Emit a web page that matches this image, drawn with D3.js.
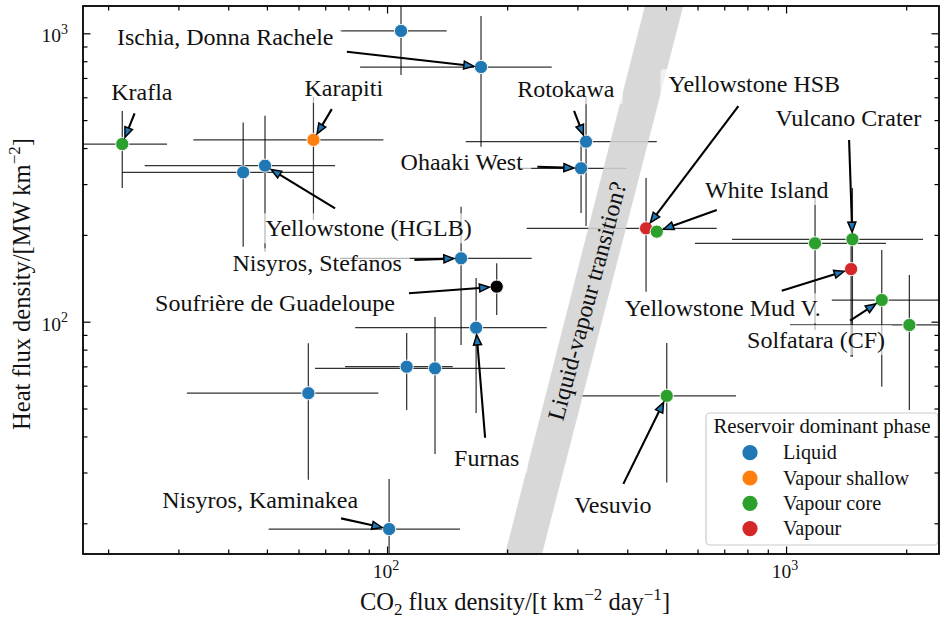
<!DOCTYPE html>
<html><head><meta charset="utf-8">
<script src="https://cdn.jsdelivr.net/npm/d3@7"></script>
<style>
body{margin:0;background:#fff}
svg{display:block}
text{font-family:"Liberation Serif","Times New Roman",serif;fill:#111}
</style>
</head><body>
<svg id="c" width="940" height="621"></svg>
<script>
// ---------------- data ----------------
const phases = ["Liquid","Vapour shallow","Vapour core","Vapour"];
const phaseColors = ["#1f77b4","#ff7f0e","#2ca02c","#d62728"];

const siteNames = ["Ischia (a)","Ischia, Donna Rachele","Krafla","Karapiti","Yellowstone (a)","Yellowstone (HGLB)",
  "Rotokawa","Ohaaki West","Yellowstone HSB","White Island","Vulcano (a)","Vulcano Crater","Yellowstone Mud V.",
  "Solfatara (CF)","Solfatara (a)","Nisyros, Stefanos","Soufrière de Guadeloupe","Furnas","Liquid (a)","Liquid (b)",
  "Liquid (c)","Nisyros, Kaminakea","Vesuvio"];
const sitePhase = ["Liquid","Liquid","Vapour core","Vapour shallow","Liquid","Liquid",
  "Liquid","Liquid","Vapour","Vapour core","Vapour core","Vapour core","Vapour",
  "Vapour core","Vapour core","Liquid","Other","Liquid","Liquid","Liquid",
  "Liquid","Liquid","Vapour core"];
const co2   = [108.4,172,21.7,65.4,43.6,49.45,315.3,306.4,445.8,474.2,1182,1466.5,1455.5,1737,2037,153.3,188.3,167.2,112,131.9,63.5,101.2,502.3];
const heat  = [1019,764,413,427,329.6,347.5,421,340.4,210.8,205.2,187,193.1,152.2,118.9,97.4,165.9,132.3,95.3,69.8,68.9,56.5,19.1,55.3];
const co2Lo = [76.2,85.6,14,32.7,21.7,24.7,157.5,215.4,223.9,null,591.4,732.2,null,1302,1023,76.2,null,83.2,78.5,66.0,31.5,50.5,304.6];
const co2Hi = [141.1,258.7,28.1,97.9,65.4,74.1,474.2,398.9,670.4,null,1780,2204,null,2600,2600,230.5,null,251.4,146.1,197.6,95.1,152.4,749.3];
const heatLo= [717,404.5,290.8,225.3,182,174.9,214.7,238.2,127,null,93.6,75.6,75.6,59.5,49.4,83.0,105.5,48.2,49.4,34.8,28.3,14,27.7];
const heatHi= [1400,1148,538,603,491,518,603,416.5,315,null,268.5,290.8,193,177.3,145.2,250.5,159.4,141.8,91.4,103.8,84.2,28.5,84.4];

// annotations: label text position, arrow tail (data coords), target site index
const annText  = ["Ischia, Donna Rachele","Krafla","Karapiti","Yellowstone (HGLB)","Rotokawa","Ohaaki West",
  "Yellowstone HSB","White Island","Vulcano Crater","Yellowstone Mud V.","Solfatara (CF)","Nisyros, Stefanos",
  "Soufrière de Guadeloupe","Furnas","Nisyros, Kaminakea","Vesuvio"];
const annX     = [39.3,24.3,77.9,89.9,280.6,153.9,832.4,894.5,1432.6,694.3,1189,66.8,52.4,177.8,48.1,368.0];
const annY     = [971,626,646,210.8,639.4,357,665.5,286.2,509.8,111.3,86.4,159.4,115.8,33.6,24.1,23.1];
const tailX    = [79.3,23.3,72.7,74.1,294.2,238.1,759.4,670.4,1438.6,975.4,1447,117.1,113.5,176.1,76.7,391.1];
const tailY    = [863.5,528,546,247.3,537.8,344.6,559.6,244,426.6,128.1,100.8,163.7,125.5,39.6,20.8,27.4];
const annTarget= [1,2,3,5,6,7,8,9,11,12,13,15,16,17,21,22];

// liquid-vapour transition band (data corners)
const bandCO2  = [182,225,578,463];
const bandHeat = [10,10,1585,1585];
const bandLabel = "Liquid-vapour transition?";
const bandLabelPos = [317.2,118];

const xMajor = [100,1000];
const xMinor = [20,30,40,50,60,70,80,90,200,300,400,500,600,700,800,900,2000];
const yMajor = [100,1000];
const yMinor = [20,30,40,50,60,70,80,90,200,300,400,500,600,700,800,900];

const xTitle = ["CO","2"," flux density/[t km","−2"," day","−1","]"];
const yTitle = ["Heat flux density/[MW km","−2","]"];
const legendTitle = "Reservoir dominant phase";

// ---------------- chart ----------------
const L=83, R=939, T=6, B=554;
const svg = d3.select("#c");
const x = d3.scaleLog().domain([17.3,2417]).range([L,R]);
const y = d3.scaleLog().domain([15.65,1243.5]).range([B,T]);

svg.append("defs").append("clipPath").attr("id","clip")
  .append("rect").attr("x",L).attr("y",T).attr("width",R-L).attr("height",B-T);

const plot = svg.append("g").attr("clip-path","url(#clip)");

const pts = co2.map((c,i)=>({name:siteNames[i],phase:sitePhase[i],c,h:heat[i],cl:co2Lo[i],ch:co2Hi[i],hl:heatLo[i],hh:heatHi[i]}));

// error bars
const eb = plot.append("g").attr("stroke","#000").attr("stroke-opacity",0.8).attr("stroke-width",1.25);
pts.forEach(p=>{
  if(p.cl!=null) eb.append("line").attr("x1",x(p.cl)).attr("x2",x(p.ch)).attr("y1",y(p.h)).attr("y2",y(p.h));
  if(p.hl!=null) eb.append("line").attr("x1",x(p.c)).attr("x2",x(p.c)).attr("y1",y(p.hl)).attr("y2",y(p.hh));
});

// band
plot.append("polygon")
  .attr("points", bandCO2.map((c,i)=>[x(c),y(bandHeat[i])].join(",")).join(" "))
  .attr("fill","#d3d3d3").attr("fill-opacity",0.88);

// markers
const colorOf = ph => { const k=phases.indexOf(ph); return k>=0?phaseColors[k]:"#000"; };
plot.append("g").selectAll("circle").data(pts).join("circle")
  .attr("cx",d=>x(d.c)).attr("cy",d=>y(d.h)).attr("r",6.6)
  .attr("fill",d=>colorOf(d.phase)).attr("stroke","#f2f2f2").attr("stroke-width",1);

// band label
svg.append("text")
  .attr("transform",`translate(${x(bandLabelPos[0])},${y(bandLabelPos[1])}) rotate(-75)`)
  .attr("text-anchor","middle").attr("dy","0.33em").attr("font-size",24).attr("fill","#222")
  .text(bandLabel);

// annotations
const annG = svg.append("g");
const FS = 24;
annText.forEach((t,i)=>{
  const tx = x(annX[i]), ty = y(annY[i]);
  const g = annG.append("g");
  const rect = g.append("rect");
  const txt = g.append("text").attr("x",tx).attr("y",ty).attr("dy","0.33em")
     .attr("text-anchor","middle").attr("font-size",FS).text(t);
  const bb = txt.node().getBBox();
  const px = 8, py = 2;
  rect.attr("x",bb.x-px).attr("y",bb.y-py).attr("width",bb.width+2*px).attr("height",bb.height+2*py)
      .attr("rx",3).attr("fill","#fff").attr("fill-opacity",0.65);
});
// arrows (above boxes)
const arG = svg.append("g");
annText.forEach((t,i)=>{
  const p = pts[annTarget[i]];
  const x0 = x(tailX[i]), y0 = y(tailY[i]);
  const x1 = x(p.c), y1 = y(p.h);
  const dx = x1-x0, dy = y1-y0, len = Math.hypot(dx,dy);
  const ux = dx/len, uy = dy/len, nx=-uy, ny=ux;
  const tipx = x1-7.2*ux, tipy = y1-7.2*uy;
  const bx = tipx-10*ux, by = tipy-10*uy;
  arG.append("line").attr("x1",x0).attr("y1",y0).attr("x2",bx).attr("y2",by)
     .attr("stroke","#000").attr("stroke-width",2.1);
  arG.append("polygon").attr("points",[[tipx,tipy],[bx+4*nx,by+4*ny],[bx-4*nx,by-4*ny]].map(q=>q.join(",")).join(" "))
     .attr("fill","#1f77b4").attr("stroke","#000").attr("stroke-width",1.5).attr("stroke-linejoin","miter");
});

// legend
const lg = svg.append("g");
lg.append("rect").attr("x",706).attr("y",413).attr("width",232).attr("height",132).attr("rx",4)
  .attr("fill","#fff").attr("fill-opacity",0.85).attr("stroke","#cccccc").attr("stroke-width",1.2);
lg.append("text").attr("x",822).attr("y",426.5).attr("dy","0.33em").attr("text-anchor","middle")
  .attr("font-size",20.8).text(legendTitle);
phases.forEach((ph,i)=>{
  const yy = 452.7 + i*25.3;
  lg.append("circle").attr("cx",750).attr("cy",yy).attr("r",7.6).attr("fill",phaseColors[i]);
  lg.append("text").attr("x",783).attr("y",yy).attr("dy","0.33em").attr("font-size",20.2).text(ph);
});

// axes with inward ticks
const ax = svg.append("g");
function tickAxis(axisFn, scale, vals, size, tr){
  ax.append("g").attr("transform",tr)
    .call(axisFn(scale).tickValues(vals).tickSize(-size).tickFormat(""))
    .call(g=>{g.select(".domain").remove(); g.selectAll("line").attr("stroke","#000").attr("stroke-width",1.2);});
}
tickAxis(d3.axisBottom,x,xMajor,7.5,`translate(0,${B})`);
tickAxis(d3.axisBottom,x,xMinor,4.5,`translate(0,${B})`);
tickAxis(d3.axisTop,x,xMajor,7.5,`translate(0,${T})`);
tickAxis(d3.axisTop,x,xMinor,4.5,`translate(0,${T})`);
tickAxis(d3.axisLeft,y,yMajor,7.5,`translate(${L},0)`);
tickAxis(d3.axisLeft,y,yMinor,4.5,`translate(${L},0)`);
tickAxis(d3.axisRight,y,yMajor,7.5,`translate(${R},0)`);
tickAxis(d3.axisRight,y,yMinor,4.5,`translate(${R},0)`);
ax.append("rect").attr("x",L).attr("y",T).attr("width",R-L).attr("height",B-T)
  .attr("fill","none").attr("stroke","#000").attr("stroke-width",1.8);

// tick labels
function powLabel(sel, v){
  const e = Math.round(Math.log10(v));
  sel.append("tspan").text("10");
  sel.append("tspan").attr("font-size",14).attr("dy",-8.5).text(String(e));
}
xMajor.forEach(v=>{
  const t = svg.append("text").attr("x",x(v)-1).attr("y",578.3).attr("text-anchor","middle").attr("font-size",19.5);
  powLabel(t,v);
});
yMajor.forEach(v=>{
  const t = svg.append("text").attr("x",68).attr("y",y(v)+9).attr("text-anchor","end").attr("font-size",19.5);
  powLabel(t,v);
});

// axis titles
const xt = svg.append("text").attr("x",(L+R)/2+4).attr("y",610).attr("text-anchor","middle").attr("font-size",24.5);
xt.append("tspan").text(xTitle[0]);
xt.append("tspan").attr("font-size",17).attr("dy",5).text(xTitle[1]);
xt.append("tspan").attr("dy",-5).text(xTitle[2]);
xt.append("tspan").attr("font-size",17).attr("dy",-10).text(xTitle[3]);
xt.append("tspan").attr("dy",10).text(xTitle[4]);
xt.append("tspan").attr("font-size",17).attr("dy",-10).text(xTitle[5]);
xt.append("tspan").attr("dy",10).text(xTitle[6]);

const yt = svg.append("text").attr("transform",`translate(30,${(T+B)/2+4}) rotate(-90)`)
  .attr("text-anchor","middle").attr("font-size",24.5);
yt.append("tspan").text(yTitle[0]);
yt.append("tspan").attr("font-size",17).attr("dy",-10).text(yTitle[1]);
yt.append("tspan").attr("dy",10).text(yTitle[2]);
</script>
</body></html>
